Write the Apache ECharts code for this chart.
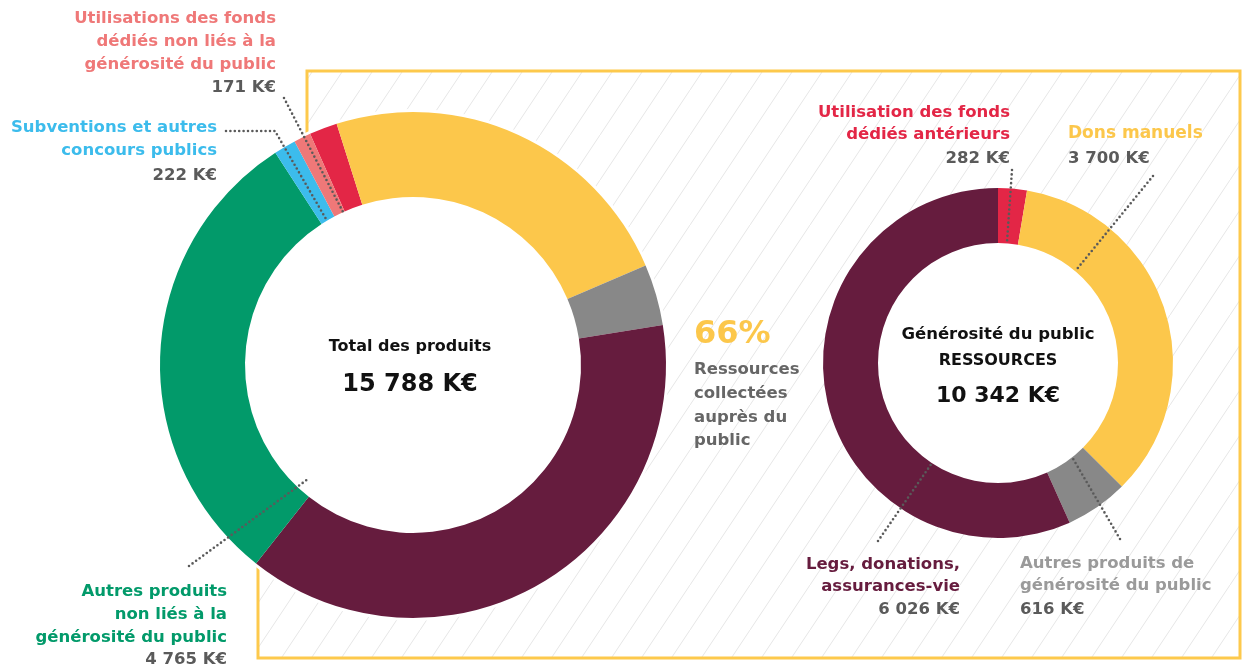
<!DOCTYPE html>
<html>
<head>
<meta charset="utf-8">
<script src="https://cdn.jsdelivr.net/npm/echarts@6/dist/echarts.min.js"></script>
<style>
  html, body { margin: 0; padding: 0; background: #fff; }
  #chart { width: 1245px; height: 668px; }
</style>
</head>
<body>
<div id="chart"></div>
<script>
// total products (big donut), clockwise from the red slice
const totalNames = [
  'Utilisation des fonds dédiés antérieurs',
  'Dons manuels',
  'Autres produits de générosité du public',
  'Legs, donations, assurances-vie',
  'Autres produits non liés à la générosité du public',
  'Subventions et autres concours publics',
  'Utilisations des fonds dédiés non liés à la générosité du public'
];
const totalValues = [282, 3700, 616, 6026, 4765, 222, 171];
const totalColors = ['#e32646', '#fcc74b', '#888888', '#661c3e', '#029a6a', '#3cbcec', '#ef7878'];

// public generosity resources (small donut)
const genNames = totalNames.slice(0, 4);
const genValues = [282, 3700, 616, 6026];
const genColors = totalColors.slice(0, 4);

const totalLabel = ['Total des produits', '15 788 K€'];
const genLabel = ['Générosité du public', 'RESSOURCES', '10 342 K€'];
const shareLabel = ['66%', 'Ressources\ncollectées\nauprès du\npublic'];

const chart = echarts.init(document.getElementById('chart'));

// diagonal hatch tile for the framed area
const tile = document.createElement('canvas');
tile.width = 30;
tile.height = 45;
const tctx = tile.getContext('2d');
tctx.strokeStyle = '#e6e6e6';
tctx.lineWidth = 1;
tctx.beginPath();
tctx.moveTo(-30, 90);
tctx.lineTo(60, -45);
tctx.stroke();

const FONT = '"DejaVu Sans", Inter, sans-serif';
const titleFont = 'bold 16.5px ' + FONT;
const valueFont = 'bold 16.5px ' + FONT;

function label(x, y, text, color, font, align, lh) {
  return {
    type: 'text', z: 10, silent: true,
    style: {
      x: x, y: y, text: text, fill: color, font: font,
      align: align, verticalAlign: 'middle', lineHeight: lh || 23
    }
  };
}

function leader(points) {
  return {
    type: 'polyline', z: 12, silent: true,
    shape: { points: points },
    style: { stroke: '#5a5a5a', lineWidth: 2.6, lineDash: [0, 4.4], lineCap: 'round', fill: null }
  };
}

const option = {
  animation: false,
  graphic: [
    // framed hatched panel
    {
      type: 'polygon', z: 0, silent: true,
      shape: { points: [[307, 71], [1240, 71], [1240, 658], [258, 658], [258, 420], [307, 420]] },
      style: { fill: { image: tile, repeat: 'repeat' }, stroke: '#fdc94c', lineWidth: 3 }
    },
    // white discs behind the donuts
    { type: 'circle', z: 1, silent: true, shape: { cx: 413, cy: 365, r: 256 }, style: { fill: '#fff' } },
    { type: 'circle', z: 1, silent: true, shape: { cx: 998, cy: 363, r: 121 }, style: { fill: '#fff' } },

    // left labels
    label(276, 41.5, 'Utilisations des fonds\ndédiés non liés à la\ngénérosité du public', '#ef7878', titleFont, 'right'),
    label(276, 88, '171 K€', '#5a5a5a', valueFont, 'right'),
    label(217, 139.5, 'Subventions et autres\nconcours publics', '#3cbcec', titleFont, 'right'),
    label(217, 176, '222 K€', '#5a5a5a', valueFont, 'right'),
    label(227, 615, 'Autres produits\nnon liés à la\ngénérosité du public', '#029a6a', titleFont, 'right'),
    label(227, 660, '4 765 K€', '#5a5a5a', valueFont, 'right'),

    // centre of big donut
    label(410, 347, totalLabel[0], '#111', 'bold 16px ' + FONT, 'center'),
    label(410, 385, totalLabel[1], '#111', 'bold 24px ' + FONT, 'center'),

    // share text
    label(694, 335, shareLabel[0], '#fcc74b', 'bold 32px ' + FONT, 'left'),
    label(694, 405.5, shareLabel[1], '#666', titleFont, 'left', 23.7),

    // centre of small donut
    label(998, 335, genLabel[0], '#111', 'bold 16.5px ' + FONT, 'center'),
    label(998, 361, genLabel[1], '#111', 'bold 16px ' + FONT, 'center'),
    label(998, 396, genLabel[2], '#111', 'bold 22px ' + FONT, 'center'),

    // right labels
    label(1010, 124, 'Utilisation des fonds\ndédiés antérieurs', '#e32646', titleFont, 'right', 22),
    label(1010, 159, '282 K€', '#5a5a5a', valueFont, 'right'),
    label(1068, 134, 'Dons manuels', '#fcc74b', 'bold 17px ' + FONT, 'left'),
    label(1068, 159, '3 700 K€', '#5a5a5a', valueFont, 'left'),
    label(960, 576, 'Legs, donations,\nassurances-vie', '#661c3e', titleFont, 'right', 22),
    label(960, 610, '6 026 K€', '#5a5a5a', valueFont, 'right'),
    label(1020, 575, 'Autres produits de\ngénérosité du public', '#9a9a9a', titleFont, 'left', 22),
    label(1020, 610, '616 K€', '#5a5a5a', valueFont, 'left'),

    // dotted leader lines
    leader([[284, 98], [343, 212]]),
    leader([[226, 131], [275, 131], [326, 219]]),
    leader([[189, 566], [308, 479]]),
    leader([[1012, 170], [1007, 242]]),
    leader([[1153, 176], [1077, 269]]),
    leader([[878, 541], [932, 463]]),
    leader([[1120, 539], [1072, 457]])
  ],
  series: [
    {
      type: 'pie',
      z: 2,
      center: [413, 365],
      radius: [168, 253],
      startAngle: 114,
      clockwise: true,
      silent: true,
      label: { show: false },
      labelLine: { show: false },
      data: totalValues.map((v, i) => ({
        name: totalNames[i], value: v,
        itemStyle: { color: totalColors[i] }
      }))
    },
    {
      type: 'pie',
      z: 2,
      center: [998, 363],
      radius: [120, 175],
      startAngle: 90,
      clockwise: true,
      silent: true,
      label: { show: false },
      labelLine: { show: false },
      data: genValues.map((v, i) => ({
        name: genNames[i], value: v,
        itemStyle: { color: genColors[i] }
      }))
    }
  ]
};

chart.setOption(option);
</script>
</body>
</html>
